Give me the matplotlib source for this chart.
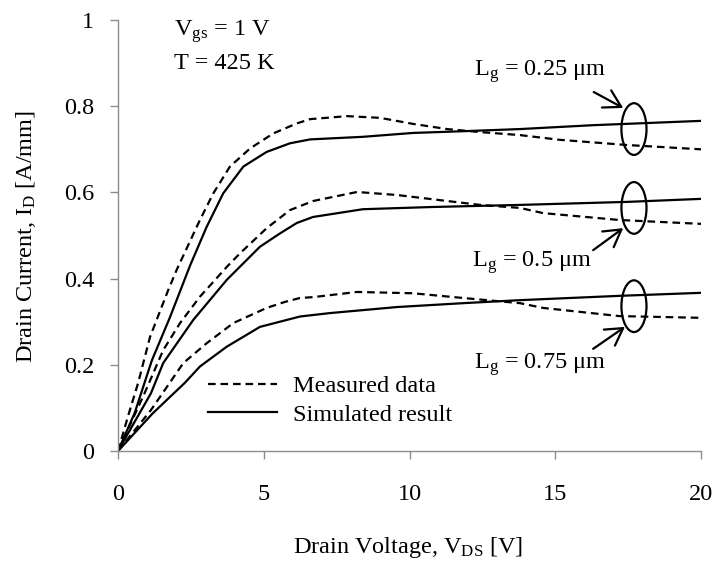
import matplotlib
matplotlib.use('Agg')
import matplotlib.pyplot as plt
from matplotlib.patches import Ellipse
from matplotlib.lines import Line2D

plt.rcParams['font.family'] = ['Liberation Serif', 'DejaVu Serif']
plt.rcParams['mathtext.fontset'] = 'custom'
plt.rcParams['mathtext.rm'] = 'Liberation Serif'
plt.rcParams['mathtext.it'] = 'Liberation Serif:italic'
plt.rcParams['lines.scale_dashes'] = False

# ---- data (V_DS in V, I_D in A/mm) ----
meas_025_x = [0, 0.34, 0.69, 1.1, 1.72, 2.01, 2.81, 3.27, 3.84, 4.53, 5.33, 6.13, 6.59, 7.86, 8.99, 10.12, 11.29, 12.42, 13.79, 15.16, 17.46, 20]
meas_025_y = [0, 0.08, 0.158, 0.265, 0.373, 0.42, 0.536, 0.598, 0.66, 0.702, 0.737, 0.76, 0.77, 0.777, 0.773, 0.759, 0.747, 0.74, 0.733, 0.722, 0.71, 0.70]
sim_025_x = [0, 0.57, 1.16, 1.78, 2.47, 3.04, 3.61, 4.3, 5.1, 5.9, 6.59, 8.4, 10.12, 11.84, 13.79, 16.3, 20]
sim_025_y = [0, 0.088, 0.21, 0.31, 0.43, 0.52, 0.598, 0.66, 0.694, 0.714, 0.723, 0.729, 0.738, 0.742, 0.747, 0.756, 0.766]

meas_05_x = [0, 0.91, 1.55, 2.13, 2.81, 3.77, 4.19, 5.1, 5.9, 6.69, 8.2, 9.57, 11.05, 12.42, 13.79, 14.58, 17.2, 20]
meas_05_y = [0, 0.134, 0.234, 0.297, 0.358, 0.43, 0.459, 0.517, 0.559, 0.58, 0.601, 0.594, 0.582, 0.571, 0.564, 0.552, 0.536, 0.527]
sim_05_x = [0, 1.13, 1.55, 2.58, 3.73, 4.87, 5.56, 6.13, 6.69, 8.4, 10.7, 13.79, 17.46, 20]
sim_05_y = [0, 0.134, 0.204, 0.304, 0.397, 0.474, 0.505, 0.529, 0.543, 0.561, 0.566, 0.571, 0.578, 0.585]

meas_075_x = [0, 1.13, 2.24, 3.04, 3.96, 5.1, 5.73, 6.24, 6.69, 8.2, 10.12, 11.84, 13.79, 14.58, 17.2, 20]
meas_075_y = [0, 0.095, 0.204, 0.25, 0.297, 0.332, 0.346, 0.355, 0.357, 0.369, 0.366, 0.355, 0.343, 0.332, 0.313, 0.309]
sim_075_x = [0, 1.2, 2.29, 2.81, 3.73, 4.87, 6.24, 7.27, 9.57, 11.84, 13.79, 17.2, 20]
sim_075_y = [0, 0.088, 0.158, 0.196, 0.242, 0.288, 0.312, 0.32, 0.334, 0.343, 0.35, 0.36, 0.367]

x_ticks = [0, 5, 10, 15, 20]
y_ticks = [0, 0.2, 0.4, 0.6, 0.8, 1]
y_tick_labels = ['0', '0.2', '0.4', '0.6', '0.8', '1']

gate_labels = ['L$\\mathregular{_g}$ = 0.25 μm', 'L$\\mathregular{_g}$ = 0.5 μm', 'L$\\mathregular{_g}$ = 0.75 μm']

FS = 17.5

# ------------------------------------------------------- #
fig = plt.figure(figsize=(7.17, 5.61), dpi=100)
ax = fig.add_axes([0.1646, 0.1961, 0.8131, 0.7682])

dash = (0, (5.5, 3.5))
lw = 1.6
for mx, my, sx, sy in [(meas_025_x, meas_025_y, sim_025_x, sim_025_y),
                       (meas_05_x, meas_05_y, sim_05_x, sim_05_y),
                       (meas_075_x, meas_075_y, sim_075_x, sim_075_y)]:
    ax.plot(mx, my, color='black', linestyle=dash, linewidth=lw)
    ax.plot(sx, sy, color='black', linestyle='-', linewidth=lw)

ax.set_xlim(0, 20)
ax.set_ylim(0, 1)
ax.set_xticks(x_ticks)
ax.set_yticks(y_ticks)
ax.set_yticklabels(y_tick_labels)

for s in ['top', 'right']:
    ax.spines[s].set_visible(False)
for s in ['left', 'bottom']:
    ax.spines[s].set_color('#8c8c8c')
    ax.spines[s].set_linewidth(1.0)
ax.tick_params(axis='both', colors='#8c8c8c', labelcolor='black', labelsize=FS,
               length=6, width=1.0, direction='out')
ax.tick_params(axis='y', pad=11)
ax.tick_params(axis='x', pad=18)

# ellipses and arrows marking each pair of curves
ell_y = [0.747, 0.564, 0.336]
for cy in ell_y:
    ax.add_patch(Ellipse((17.7, cy), width=0.86, height=0.12, fill=False,
                         edgecolor='black', linewidth=lw))

arrow_kw = dict(arrowstyle='->,head_length=0.6,head_width=0.35', color='black',
                lw=lw, shrinkA=0, shrinkB=0, mutation_scale=20)
ax.annotate('', xy=(17.33, 0.796), xytext=(16.32, 0.833), arrowprops=arrow_kw)
ax.annotate('', xy=(17.33, 0.517), xytext=(16.3, 0.466), arrowprops=arrow_kw)
ax.annotate('', xy=(17.39, 0.288), xytext=(16.3, 0.237), arrowprops=arrow_kw)

ax.text(14.48, 0.88, gate_labels[0], fontsize=FS, ha='center', va='center')
ax.text(14.2, 0.436, gate_labels[1], fontsize=FS, ha='center', va='center')
ax.text(14.48, 0.20, gate_labels[2], fontsize=FS, ha='center', va='center')

ax.text(1.92, 0.972, 'V$\\mathregular{_{gs}}$ = 1 V', fontsize=FS, ha='left', va='center')
ax.text(1.92, 0.90, 'T = 425 K', fontsize=FS, ha='left', va='center')

handles = [Line2D([], [], color='black', linestyle=dash, linewidth=lw),
           Line2D([], [], color='black', linestyle='-', linewidth=lw)]
ax.legend(handles, ['Measured data', 'Simulated result'], loc='upper left',
          bbox_to_anchor=(0.154, 0.176), frameon=False, fontsize=FS,
          borderpad=0, borderaxespad=0, handlelength=2.85, handletextpad=0.65,
          labelspacing=0.28)

fig.text(0.036, 0.579, 'Drain Current, I$\\mathregular{_D}$ [A/mm]', fontsize=FS,
         rotation=90, ha='center', va='center')
fig.text(0.569, 0.014, 'Drain Voltage, V$\\mathregular{_{DS}}$ [V]', fontsize=FS,
         ha='center', va='baseline')

fig.savefig('out.png', dpi=100)
plt.close()
